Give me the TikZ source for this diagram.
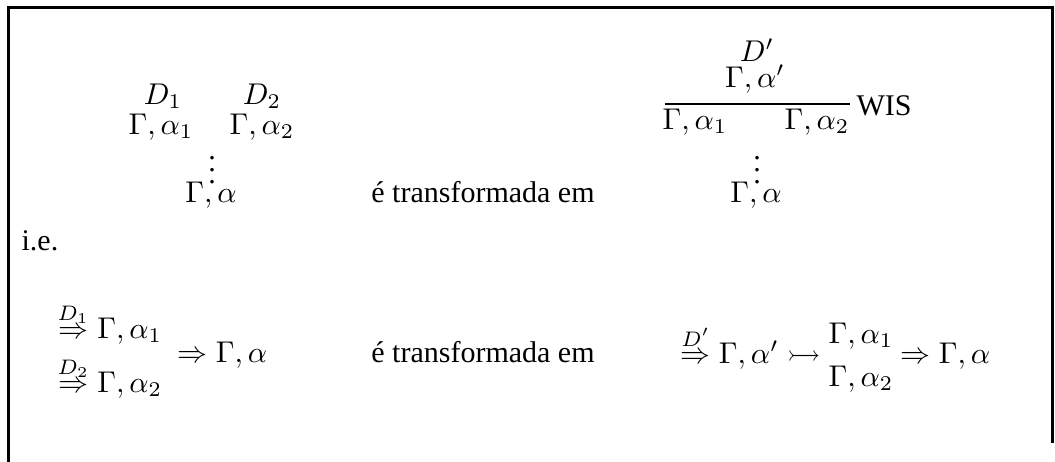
\documentclass[tikz,border=0pt]{standalone}
\usepackage{amsmath,amssymb}
\usepackage{fontspec}
\setmainfont{Liberation Serif}
\newfontfamily\romantext{Liberation Serif}
\usetikzlibrary{positioning}

\begin{document}
\begin{tikzpicture}[
    x=0.3333pt, y=-0.3333pt,
    frameline/.style={line width=1pt, line cap=rect},
    term/.style={anchor=base, inner sep=0pt, font=\romantext},
    termw/.style={anchor=base west, inner sep=0pt, font=\romantext},
    infrule/.style={line width=0.8pt}
]
\useasboundingbox (0,0) rectangle (1055,461);

% frame, cut off at the bottom
\draw[frameline] (8.5,461) -- (8.5,7.5) -- (1053,7.5) -- (1053,441);

% first line: the derivation trees
\node[term] (d1)  at (163,104) {$D_1$};
\node[term] (d2)  at (262,104) {$D_2$};
\node[term] (ga1) at (161,134) {$\Gamma,\alpha_1$};
\node[term] (ga2) at (262,134) {$\Gamma,\alpha_2$};
\node[term] (dl)  at (212,183) {$\vdots$};
\node[term] (gl)  at (211,202) {$\Gamma,\alpha$};

\node[term] (tr1) at (483,202) {é transformada em};

\node[term] (dp)  at (757,61)  {$D'$};
\node[term] (gap) at (755,87)  {$\Gamma,\alpha'$};
\coordinate (ruleL) at (665,104);
\coordinate (ruleR) at (850,104);
\draw[infrule] (ruleL) -- (ruleR);
\node[term] (gb1) at (695,129) {$\Gamma,\alpha_1$};
\node[term] (gb2) at (817,129) {$\Gamma,\alpha_2$};
\node[termw] (wis) at (856,115) {WIS};
\node[term] (dr)  at (757,183) {$\vdots$};
\node[term] (gr)  at (756,202) {$\Gamma,\alpha$};

% i.e.
\node[termw] (ie) at (21,250) {i.e.};

% second line: the sequents
\node[termw] (s1) at (57,338) {$\stackrel{D_1}{\Rightarrow}\Gamma,\alpha_1$};
\node[termw] (s2) at (57,392) {$\stackrel{D_2}{\Rightarrow}\Gamma,\alpha_2$};
\node[termw] (sl) at (177,362) {$\Rightarrow\Gamma,\alpha$};

\node[term] (tr2) at (483,362) {é transformada em};

\node[termw] (sp) at (680,363) {$\stackrel{D'}{\Rightarrow}\Gamma,\alpha'\rightarrowtail$};
\node[termw] (t1) at (828,343) {$\Gamma,\alpha_1$};
\node[termw] (t2) at (828,386) {$\Gamma,\alpha_2$};
\node[termw] (sr) at (900,363) {$\Rightarrow\Gamma,\alpha$};
\end{tikzpicture}
\end{document}
